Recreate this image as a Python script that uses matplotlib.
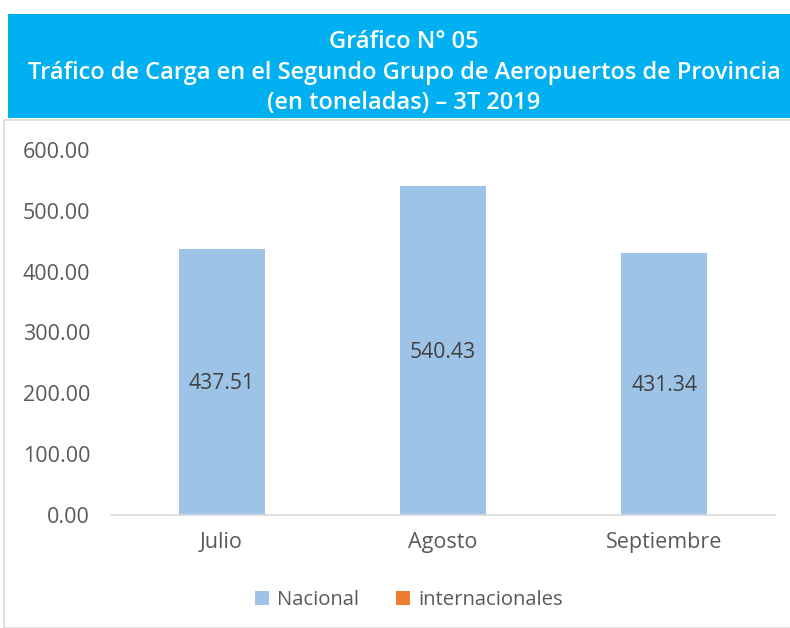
import matplotlib.pyplot as plt
from matplotlib.patches import Rectangle

meses = ['Julio', 'Agosto', 'Septiembre']
nacional = [437.51, 540.43, 431.34]
internacional = [0, 0, 0]
yticks = [0, 100, 200, 300, 400, 500, 600]

plt.rcParams['font.family'] = ['Open Sans', 'DejaVu Sans']
gris = '#595959'

fig = plt.figure(figsize=(7.9, 6.28), dpi=100)
W, H = 790, 628

# marco del grafico
fig.patches.append(Rectangle((4 / W, 0), 1.0, 1 - 120 / H, transform=fig.transFigure,
                             facecolor='white', edgecolor='#D9D9D9', lw=1.2, zorder=-5))
# banda del titulo
fig.patches.append(Rectangle((8 / W, 1 - 118 / H), (790 - 8) / W, 104 / H, transform=fig.transFigure,
                             facecolor='#00B0F0', edgecolor='none', zorder=1))
titulo = ['Gráfico N° 05',
          'Tráfico de Carga en el Segundo Grupo de Aeropuertos de Provincia',
          '(en toneladas) – 3T 2019']
for txt, yy in zip(titulo, [42, 73, 103]):
    fig.text(404 / W, 1 - yy / H, txt, color='white', fontsize=17, fontweight='semibold',
             ha='center', va='center', zorder=2)

ax = fig.add_axes([111 / W, 1 - 515 / H, (775 - 111) / W, (515 - 150) / H])
ax.set_facecolor('none')
x = range(len(meses))
bars = ax.bar(x, nacional, width=0.39, color='#9DC3E6', label='Nacional', zorder=2)
ax.bar(x, internacional, width=0.39, bottom=nacional, color='#ED7D31', label='internacionales')

for b, v in zip(bars, nacional):
    ax.text(b.get_x() + b.get_width() / 2, v / 2 - 3, f'{v:.2f}', ha='center', va='center',
            fontsize=15.2, color='#404040', zorder=3)

ax.set_xlim(-0.5, 2.5)
ax.set_ylim(0, 600)
ax.set_yticks(yticks)
ax.set_yticklabels([f'{t:.2f}' for t in yticks])
ax.set_xticks(list(x))
ax.set_xticklabels(meses)
ax.tick_params(axis='both', length=0, labelsize=15.5, colors=gris)
ax.tick_params(axis='y', pad=15)
ax.tick_params(axis='x', pad=12)
for s in ['top', 'right', 'left']:
    ax.spines[s].set_visible(False)
ax.spines['bottom'].set_color('#D9D9D9')
ax.spines['bottom'].set_linewidth(1.2)

leg = fig.legend(loc='center', bbox_to_anchor=(409 / W, 1 - 600 / H), ncol=2, frameon=False,
                 fontsize=14.6, handlelength=0.7, handleheight=0.7, handletextpad=0.4,
                 columnspacing=1.8)
for t in leg.get_texts():
    t.set_color(gris)

fig.savefig('out.png', dpi=100)
